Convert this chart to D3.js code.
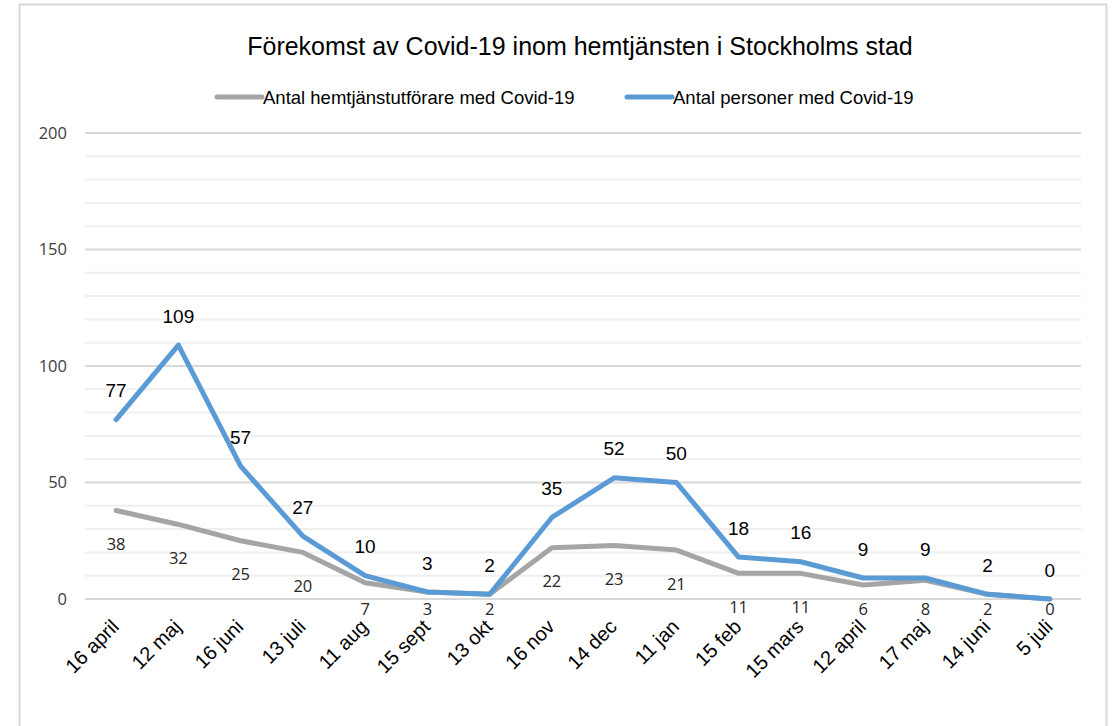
<!DOCTYPE html>
<html><head><meta charset="utf-8">
<script src="https://cdn.jsdelivr.net/npm/d3@7"></script>
<style>body{margin:0;background:#fff;}svg{display:block;}</style>
</head><body>
<svg id="c" width="1112" height="726"></svg>
<script>
const categories = ["16 april","12 maj","16 juni","13 juli","11 aug","15 sept","13 okt","16 nov","14 dec","11 jan","15 feb","15 mars","12 april","17 maj","14 juni","5 juli"];
const staffValues = [38,32,25,20,7,3,2,22,23,21,11,11,6,8,2,0];
const personValues = [77,109,57,27,10,3,2,35,52,50,18,16,9,9,2,0];
const yTicks = [0,50,100,150,200];
const seriesNames = ["Antal hemtjänstutförare med Covid-19","Antal personer med Covid-19"];
const titleText = "Förekomst av Covid-19 inom hemtjänsten i Stockholms stad";

const svg = d3.select("#c");
const F = "'Liberation Sans', Arial, sans-serif";
const GRAY = "#a5a5a5", BLUE = "#5b9bd5";

// border
svg.append("rect").attr("x",19.5).attr("y",4.5).attr("width",1087).attr("height",740)
  .attr("fill","none").attr("stroke","#d9d9d9").attr("stroke-width",2);

const x = d3.scaleBand().domain(categories).range([85,1081]);
const y = d3.scaleLinear().domain([0,200]).range([599,133]);
const cx = d => x(d) + x.bandwidth()/2;

// gridlines
const minor = d3.range(0,201,10);
svg.append("g").selectAll("line").data(minor).join("line")
  .attr("x1",85).attr("x2",1081).attr("y1",d=>y(d)).attr("y2",d=>y(d))
  .attr("stroke",d=> d%50===0 ? "#d9d9d9" : "#efefef").attr("stroke-width",2);

// y axis labels
const yAxis = d3.axisLeft(y).tickValues(yTicks).tickSize(0).tickPadding(0);
const yg = svg.append("g").attr("transform","translate(67,0)").call(yAxis);
yg.select(".domain").remove();
yg.selectAll("text").attr("font-family","'Open Sans', 'Noto Sans', sans-serif").attr("font-size",16.5).attr("fill","#404040");

// x axis labels
const xAxis = d3.axisBottom(x).tickSize(0).tickPadding(0);
const xg = svg.append("g").attr("transform","translate(0,0)").call(xAxis);
xg.select(".domain").remove();
xg.selectAll(".tick").attr("transform",d=>`translate(${cx(d)+4},628)`);
xg.selectAll("text").attr("font-family",F).attr("font-size",20).attr("fill","#000")
  .attr("text-anchor","end").attr("x",0).attr("y",0).attr("dy",0)
  .attr("transform","rotate(-45)");

// lines
const line = vals => d3.line().x((d,i)=>cx(categories[i])).y(d=>y(d))(vals);
svg.append("path").attr("d",line(staffValues)).attr("fill","none")
  .attr("stroke",GRAY).attr("stroke-width",5).attr("stroke-linejoin","round").attr("stroke-linecap","round");
svg.append("path").attr("d",line(personValues)).attr("fill","none")
  .attr("stroke",BLUE).attr("stroke-width",5).attr("stroke-linejoin","round").attr("stroke-linecap","round");

// data labels
svg.append("g").selectAll("text").data(personValues).join("text")
  .attr("x",(d,i)=>cx(categories[i])).attr("y",d=>y(d)-29)
  .attr("text-anchor","middle").attr("dominant-baseline","central")
  .attr("font-family",F).attr("font-size",19).attr("fill","#000").text(d=>d);
svg.append("g").selectAll("text").data(staffValues).join("text")
  .attr("x",(d,i)=>cx(categories[i])).attr("y",d=>Math.min(y(d)+33, 608))
  .attr("text-anchor","middle").attr("dominant-baseline","central")
  .attr("font-family","'Open Sans', 'Noto Sans', sans-serif").attr("font-size",16.5).attr("fill","#262626").text(d=>d);

// title
svg.append("text").attr("x",580).attr("y",46).attr("text-anchor","middle").attr("dominant-baseline","central")
  .attr("font-family",F).attr("font-size",25).attr("fill","#000")
  .text(titleText);

// legend
const leg = [{name:seriesNames[0],color:GRAY,x:217},{name:seriesNames[1],color:BLUE,x:627}];
const lg = svg.append("g").selectAll("g").data(leg).join("g").attr("transform",d=>`translate(${d.x},97)`);
lg.append("line").attr("x1",0).attr("x2",45).attr("y1",0).attr("y2",0)
  .attr("stroke",d=>d.color).attr("stroke-width",5).attr("stroke-linecap","round");
lg.append("text").attr("x",46).attr("y",0).attr("dominant-baseline","central")
  .attr("font-family",F).attr("font-size",18.5).attr("fill","#000").text(d=>d.name);
</script>
</body></html>
